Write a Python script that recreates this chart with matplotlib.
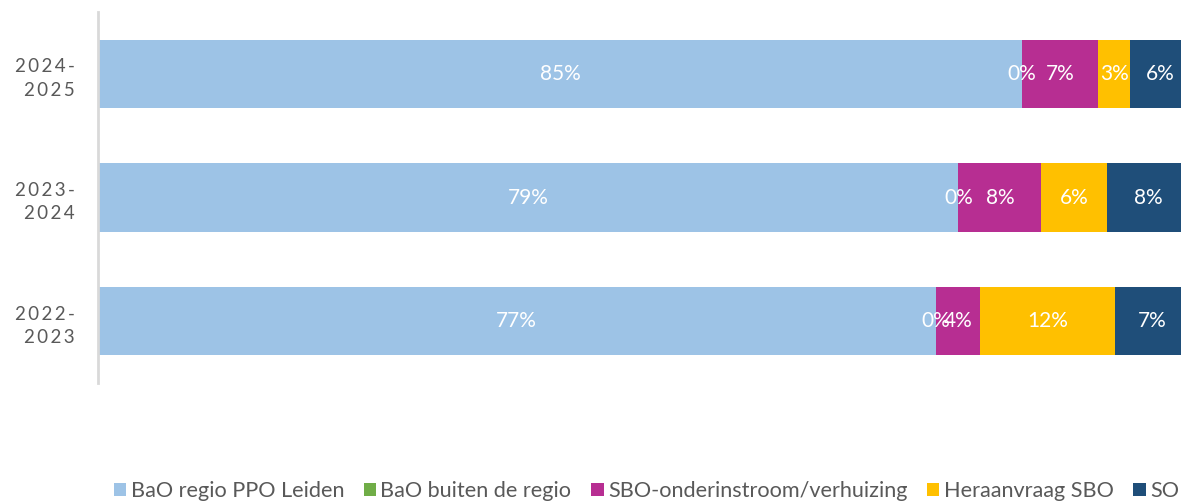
import numpy as np
import matplotlib
matplotlib.use('Agg')
from matplotlib import pyplot as plt

plt.rcParams['font.family'] = ['Lato', 'DejaVu Sans']

# Data (percent per school year)
years = ['2022-2023', '2023-2024', '2024-2025']
bao_leiden = [76.7, 78.8, 84.6]
bao_buiten = [0.0, 0.0, 0.0]
sbo_instroom = [4.1, 7.6, 7.0]
heraanvraag = [12.3, 6.0, 2.9]
so = [6.9, 7.6, 5.5]

series = [
    ('BaO regio PPO Leiden', bao_leiden, '#9dc3e6'),
    ('BaO buiten de regio', bao_buiten, '#70ad47'),
    ('SBO-onderinstroom/verhuizing', sbo_instroom, '#b72e92'),
    ('Heraanvraag SBO', heraanvraag, '#ffc000'),
    ('SO', so, '#1f4e79'),
]

W, H = 1181, 501
fig = plt.figure(figsize=(W / 100, H / 100), dpi=100)
# axes run past the right edge on purpose (the original chart is cropped)
ax = fig.add_axes([98 / W, (H - 383) / H, (1190 - 98) / W, 371 / H])

y = np.arange(len(years))
left = np.zeros(len(years))
handles = []
for name, vals, col in series:
    vals = np.array(vals)
    b = ax.barh(y, vals, left=left, height=0.55, color=col, label=name)
    handles.append(b)
    for yi, l, v in zip(y, left, vals):
        ax.text(l + v / 2, yi, '%d%%' % round(v), ha='center', va='center',
                color='white', fontsize=15)
    left += vals

sp = '\u2009'
ticklabels = []
for s in years:
    a, b = s.split('-')
    ticklabels.append(sp.join(a) + sp + '-\n' + sp.join(b))

ax.set_xlim(0, 100)
ax.set_ylim(-0.5, 2.5)
ax.set_xticks([])
ax.set_yticks(y)
ax.set_yticklabels(ticklabels, color='#595959', fontsize=13.5, linespacing=1.45)
ax.tick_params(axis='y', length=0, pad=16.5)
for s in ['top', 'right', 'bottom']:
    ax.spines[s].set_visible(False)
ax.spines['left'].set_color('#d9d9d9')
ax.spines['left'].set_linewidth(2)

fig.legend(handles=handles, loc='center left', bbox_to_anchor=(105 / W, 10 / H),
           ncol=5, frameon=False, fontsize=15.6, labelcolor='#595959',
           handlelength=0.58, handleheight=0.58, handletextpad=0.2,
           columnspacing=0.9, borderaxespad=0)

fig.savefig('out.png', dpi=100)
